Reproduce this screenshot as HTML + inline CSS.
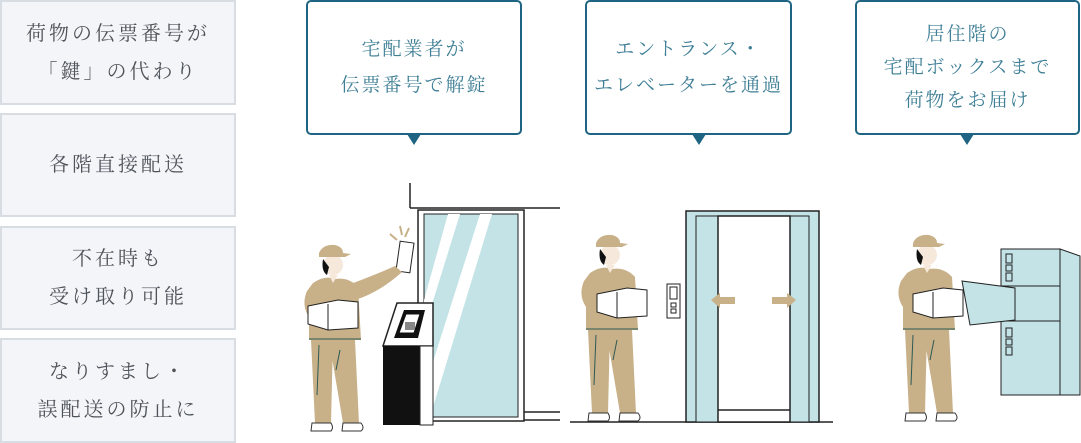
<!DOCTYPE html>
<html><head><meta charset="utf-8"><style>
html,body{margin:0;padding:0;background:#fff;}
body{width:1081px;height:443px;position:relative;overflow:hidden;font-family:"Liberation Serif","Noto Serif CJK SC",serif;}
.lb{position:absolute;left:0;width:236px;background:#f3f5f9;border:2px solid #d8dce3;box-sizing:border-box;display:flex;align-items:center;justify-content:center;text-align:center;color:#4f545a;font-size:20px;line-height:38px;letter-spacing:3px;}
.cb{position:absolute;top:0;height:135px;border:2px solid #1f6583;border-radius:5px;box-sizing:border-box;background:#fff;display:flex;align-items:center;justify-content:center;text-align:center;color:#3f7f96;font-size:19px;line-height:36px;letter-spacing:2px;}
.tri{position:absolute;top:134px;width:0;height:0;border-left:7px solid transparent;border-right:7px solid transparent;border-top:11px solid #1f6583;}
svg{position:absolute;left:0;top:0;}
</style></head><body>
<div class="lb" style="top:0;height:105px">荷物の伝票番号が<br>「鍵」の代わり</div>
<div class="lb" style="top:113px;height:104px">各階直接配送</div>
<div class="lb" style="top:226px;height:104px">不在時も<br>受け取り可能</div>
<div class="lb" style="top:338px;height:105px">なりすまし・<br>誤配送の防止に</div>

<div class="cb" style="left:306px;width:216px">宅配業者が<br>伝票番号で解錠</div><div class="tri" style="left:407px"></div>
<div class="cb" style="left:585px;width:207px">エントランス・<br>エレベーターを通過</div><div class="tri" style="left:692px"></div>
<div class="cb" style="left:855px;width:225px;line-height:33px">居住階の<br>宅配ボックスまで<br>荷物をお届け</div><div class="tri" style="left:960px"></div>

<svg width="1081" height="443" viewBox="0 0 1081 443">
<defs>
<g id="w">
 <path d="M8 95 L30 95 L28 178 L12 178 Z" fill="#c8b088"/>
 <path d="M26 95 L52 95 L56 178 L40 178 Z" fill="#c8b088"/>
 <line x1="16" y1="100" x2="14" y2="150" stroke="#2d5a55" stroke-width="1"/>
 <line x1="37" y1="105" x2="33" y2="125" stroke="#2d5a55" stroke-width="1"/>
 <path d="M10 38 Q22 30 32 34 Q46 32 55 42 L58 95 L6 95 L6 72 Q-2 60 4 46 Z" fill="#c8b088"/>
 <line x1="6" y1="94" x2="58" y2="94" stroke="#2d5a55" stroke-width="1"/>
 <circle cx="30" cy="20" r="10" fill="#f7e8dc"/>
 <path d="M20 14 Q18 26 24 30 L26 22 Z" fill="#111"/>
 <path d="M16 8 Q20 -1 32 0 Q40 2 40 8 L48 9 L42 12 L16 12 Z" fill="#c8b088"/>
 <path d="M26 30 L30 38 L35 30 Z" fill="#f7e8dc"/>
 <path d="M9 178 L28 178 Q31 183 28 186 L8 186 Z" fill="#fff" stroke="#333" stroke-width="1"/>
 <path d="M40 178 L58 178 Q62 183 58 186 L39 186 Z" fill="#fff" stroke="#333" stroke-width="1"/>
</g>
<g id="box">
 <path d="M0 6 L30 0 L50 2 L50 28 L20 30 L0 24 Z" fill="#fff" stroke="#222" stroke-width="1"/>
 <line x1="20" y1="4" x2="20" y2="30" stroke="#222" stroke-width="1"/>
</g>
</defs>
<line x1="410" y1="183" x2="410" y2="208" stroke="#222" stroke-width="1.5"/>
<line x1="410" y1="208" x2="560" y2="208" stroke="#222" stroke-width="1.5"/>
<rect x="418" y="210" width="106" height="211" fill="#fff" stroke="#222" stroke-width="1.5"/>
<rect x="424" y="214" width="94" height="203" fill="#c3e3e6" stroke="#222" stroke-width="1"/>
<path d="M448 214 L460 214 L424 330 L424 300 Z" fill="#fff"/>
<path d="M480 214 L492 214 L430 417 L424 417 L424 390 Z" fill="#fff"/>
<line x1="524" y1="412" x2="560" y2="412" stroke="#222" stroke-width="1.5"/>
<line x1="524" y1="420" x2="560" y2="420" stroke="#222" stroke-width="1.5"/>
<path d="M383 346 L397 303 L433 303 L433 346 Z" fill="#fff" stroke="#222" stroke-width="1.5"/>
<path d="M394 338 L404 310 L425 310 L418 338 Z" fill="#111"/>
<path d="M399 333 L406 314 L420 314 L414 333 Z" fill="#fff" stroke="#111"/>
<rect x="405" y="322" width="10" height="8" fill="#888"/>
<rect x="383" y="346" width="50" height="79" fill="#111"/>
<rect x="420" y="346" width="13" height="79" fill="#fff" stroke="#222"/>
<rect x="398" y="242" width="14" height="30" fill="#fff" stroke="#222" transform="rotate(8 405 257)"/>
<path d="M390 234 L397 240 M400 226 L402 235 M409 228 L405 237" stroke="#c8b088" stroke-width="2"/>
<path d="M348 285 Q375 275 395 266 L402 272 Q380 292 355 300 Z" fill="#c8b088"/>
<use href="#w" x="303" y="245"/>
<use href="#box" x="308" y="300"/>
<line x1="570" y1="422" x2="833" y2="422" stroke="#222" stroke-width="1.5"/>
<rect x="686" y="211" width="133" height="211" fill="#c3e3e6" stroke="#222" stroke-width="1.5"/>
<rect x="696" y="216" width="113" height="206" fill="#c3e3e6" stroke="#222" stroke-width="1"/>
<rect x="718" y="216" width="72" height="206" fill="#fff" stroke="#222" stroke-width="1.5"/>
<line x1="718" y1="410" x2="790" y2="410" stroke="#222" stroke-width="1.5"/>
<path d="M711 300 L720 293 L720 297 L735 297 L735 304 L720 304 L720 308 Z" fill="#c8b088"/>
<path d="M796 300 L787 293 L787 297 L772 297 L772 304 L787 304 L787 308 Z" fill="#c8b088"/>
<rect x="667" y="284" width="13" height="34" fill="#fff" stroke="#222"/>
<rect x="670" y="287" width="7" height="12" fill="#fff" stroke="#222"/>
<rect x="671" y="303" width="5" height="4" fill="#fff" stroke="#222"/>
<rect x="671" y="309" width="5" height="4" fill="#fff" stroke="#222"/>
<use href="#w" x="580" y="235"/>
<use href="#box" x="597" y="288"/>
<rect x="1001" y="249" width="59" height="146" fill="#c3e3e6" stroke="#222" stroke-width="1"/>
<path d="M1060 249 L1080 256 L1080 395 L1060 395 Z" fill="#c3e3e6" stroke="#222" stroke-width="1"/>
<line x1="1001" y1="286" x2="1060" y2="286" stroke="#222"/>
<line x1="1001" y1="321" x2="1060" y2="321" stroke="#222"/>
<path d="M962 281 L1015 288 L1015 320 L970 325 Z" fill="#c3e3e6" stroke="#222" stroke-width="1"/>
<rect x="1006" y="254" width="6" height="9" fill="none" stroke="#222"/><rect x="1006" y="265" width="6" height="6" fill="none" stroke="#222"/><rect x="1006" y="273" width="6" height="8" fill="none" stroke="#222"/>
<rect x="1006" y="328" width="6" height="9" fill="none" stroke="#222"/><rect x="1006" y="339" width="6" height="6" fill="none" stroke="#222"/><rect x="1006" y="347" width="6" height="8" fill="none" stroke="#222"/>
<use href="#w" x="897" y="235"/>
<use href="#box" x="913" y="288"/>
</svg>
</body></html>
